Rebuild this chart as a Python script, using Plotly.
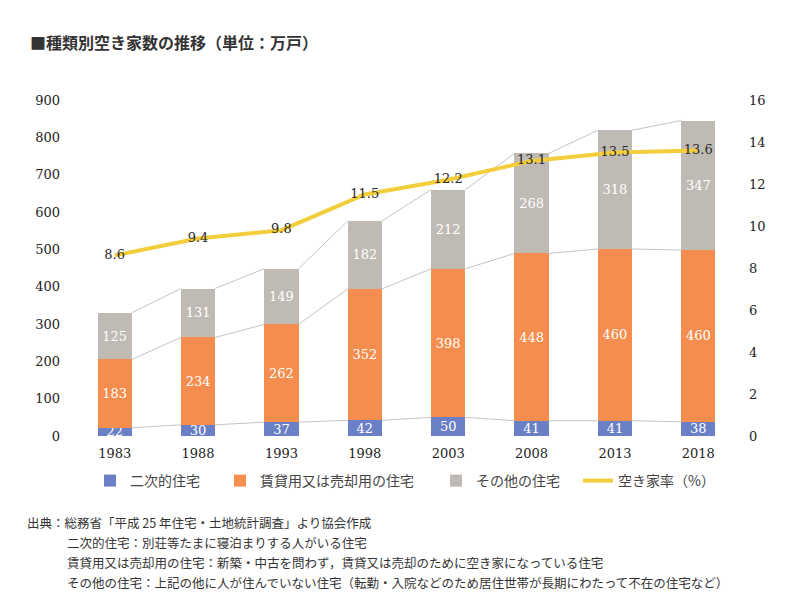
import plotly.graph_objects as go

years = ["1983", "1988", "1993", "1998", "2003", "2008", "2013", "2018"]
second_home = [22, 30, 37, 42, 50, 41, 41, 38]
rental_sale = [183, 234, 262, 352, 398, 448, 460, 460]
other_home = [125, 131, 149, 182, 212, 268, 318, 347]
vacancy_rate = [8.6, 9.4, 9.8, 11.5, 12.2, 13.1, 13.5, 13.6]

names = ["二次的住宅", "賃貸用又は売却用の住宅", "その他の住宅", "空き家率（%）"]
title = "■種類別空き家数の推移（単位：万戸）"
notes = [
    "出典：総務省「平成 25 年住宅・土地統計調査」より協会作成",
    "二次的住宅：別荘等たまに寝泊まりする人がいる住宅",
    "賃貸用又は売却用の住宅：新築・中古を問わず，賃貸又は売却のために空き家になっている住宅",
    "その他の住宅：上記の他に人が住んでいない住宅（転勤・入院などのため居住世帯が長期にわたって不在の住宅など）",
]

C_BLUE = "#6B7FC6"
C_ORANGE = "#F58D4E"
C_GRAY = "#BFBAB4"
C_YELLOW = "#F2CD3C"
SERIF = "DejaVu Serif"
CJK = "Noto Sans CJK JP"

x = list(range(len(years)))
W = 0.41

top1 = second_home
top2 = [a + b for a, b in zip(second_home, rental_sale)]
top3 = [a + b for a, b in zip(top2, other_home)]

fig = go.Figure()


def connector(tops):
    xs, ys = [], []
    for i in range(len(tops) - 1):
        xs += [x[i] + W / 2, x[i + 1] - W / 2, None]
        ys += [tops[i], tops[i + 1], None]
    return go.Scatter(x=xs, y=ys, mode="lines", line=dict(color="#C4C4C4", width=1),
                      showlegend=False, hoverinfo="skip")


for tops in (top1, top2, top3):
    fig.add_trace(connector(tops))

legends = ["legend", "legend2", "legend3", "legend4"]
for vals, col, nm, lg in zip((second_home, rental_sale, other_home), (C_BLUE, C_ORANGE, C_GRAY),
                             names[:3], legends[:3]):
    fig.add_trace(go.Bar(
        x=x, y=vals, name=nm, marker=dict(color=col, line=dict(width=0)), width=W,
        text=[str(v) for v in vals], textposition="inside", insidetextanchor="middle",
        constraintext="none", textangle=0,
        textfont=dict(family=SERIF, size=13, color="white"), cliponaxis=False,
        legend=lg,
    ))

fig.add_trace(go.Scatter(
    x=x, y=vacancy_rate, yaxis="y2", name=names[3], mode="lines+text",
    line=dict(color=C_YELLOW, width=4),
    text=[f"{v:.1f}" for v in vacancy_rate], textposition="middle center",
    textfont=dict(family=SERIF, size=13, color="#2a2a2a"), legend="legend4",
))

# page offset of the figure inside the browser window
OFF = 8
FW, FH = 800, 600
PL, PR, PT, PB = 73, 740, 100, 436  # target plot-area edges in window pixels
L = PL - OFF
R = FW - (PR - OFF)
T = PT - OFF
B = FH - (PB - OFF)
PW = PR - PL
PH = PB - PT


def px2paper_x(px):
    return (px - PL) / PW


def px2paper_y(py):
    return (PB - py) / PH


leg_text_x = [130, 260, 476, 618]
leg_common = dict(orientation="h", yanchor="middle", xanchor="left",
                  font=dict(family=CJK, size=14, color="#444"),
                  bgcolor="rgba(0,0,0,0)", itemwidth=30)

layout_legends = {}
for lg, lx in zip(legends, leg_text_x):
    layout_legends[lg] = dict(leg_common, x=px2paper_x(lx - 40), y=px2paper_y(481))

annotations = []
note_pos = [(25, 522), (65, 542), (65, 562), (65, 582)]
for txt, (nx, ny) in zip(notes, note_pos):
    annotations.append(dict(
        text=txt, xref="paper", yref="paper", x=px2paper_x(nx), y=px2paper_y(ny),
        xanchor="left", yanchor="middle", showarrow=False,
        font=dict(family=CJK, size=12.5, color="#333"),
    ))

fig.update_layout(
    width=FW, height=FH,
    margin=dict(l=L, r=R, t=T, b=B),
    paper_bgcolor="white", plot_bgcolor="white",
    barmode="stack",
    title=dict(text=f"<b>{title}</b>", x=(30 - OFF) / FW, xanchor="left",
               y=1 - (43 - OFF) / FH, yanchor="middle",
               font=dict(family=CJK, size=16, color="#333")),
    xaxis=dict(tickmode="array", tickvals=x, ticktext=years, range=[-0.5, len(years) - 0.5],
               showgrid=False, zeroline=False, showline=False, ticks="",
               tickfont=dict(family=SERIF, size=13, color="#222"), ticklabelstandoff=8),
    yaxis=dict(range=[0, 900], dtick=100, showgrid=False, zeroline=False, showline=False,
               tickfont=dict(family=SERIF, size=13, color="#222"), ticklabelstandoff=12),
    yaxis2=dict(range=[0, 16], dtick=2, overlaying="y", side="right", showgrid=False,
                zeroline=False, showline=False,
                tickfont=dict(family=SERIF, size=13, color="#222"), ticklabelstandoff=8),
    annotations=annotations,
    **layout_legends,
)

fig.write_html("out.html")
